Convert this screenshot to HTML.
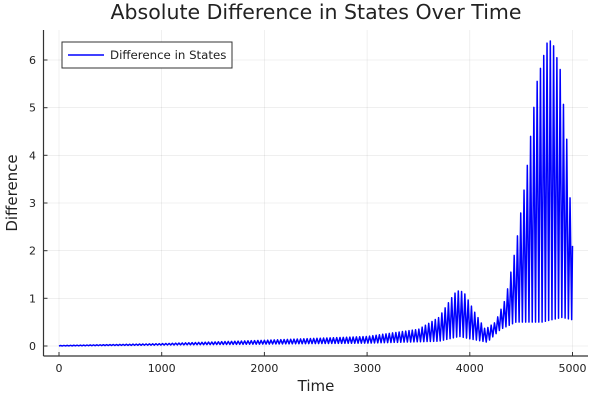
<!DOCTYPE html>
<html><head><meta charset="utf-8"><style>
body{margin:0;background:#fff}
svg{display:block;font-family:"DejaVu Sans","Liberation Sans",sans-serif}
</style></head><body>
<svg id="s" width="600" height="400" xmlns="http://www.w3.org/2000/svg">
<rect width="600" height="400" fill="#fff"/>
<g stroke="#000" stroke-opacity="0.1" stroke-width="0.6">
<line x1="59" y1="30" x2="59" y2="356"/><line x1="161.7" y1="30" x2="161.7" y2="356"/>
<line x1="264.4" y1="30" x2="264.4" y2="356"/><line x1="367.1" y1="30" x2="367.1" y2="356"/>
<line x1="469.8" y1="30" x2="469.8" y2="356"/><line x1="572.5" y1="30" x2="572.5" y2="356"/>
<line x1="43.5" y1="346" x2="588" y2="346"/><line x1="43.5" y1="298.3" x2="588" y2="298.3"/>
<line x1="43.5" y1="250.7" x2="588" y2="250.7"/><line x1="43.5" y1="203" x2="588" y2="203"/>
<line x1="43.5" y1="155.3" x2="588" y2="155.3"/><line x1="43.5" y1="107.7" x2="588" y2="107.7"/>
<line x1="43.5" y1="60" x2="588" y2="60"/>
</g>
<g stroke="#333" stroke-width="1.2">
<line x1="43.5" y1="30" x2="43.5" y2="356"/><line x1="43.5" y1="356" x2="588" y2="356"/>
</g>
<g stroke="#333" stroke-width="1">
<line x1="59" y1="356" x2="59" y2="352"/><line x1="161.7" y1="356" x2="161.7" y2="352"/><line x1="264.4" y1="356" x2="264.4" y2="352"/><line x1="367.1" y1="356" x2="367.1" y2="352"/><line x1="469.8" y1="356" x2="469.8" y2="352"/><line x1="572.5" y1="356" x2="572.5" y2="352"/>
<line x1="43.5" y1="346" x2="47.5" y2="346"/><line x1="43.5" y1="298.3" x2="47.5" y2="298.3"/><line x1="43.5" y1="250.7" x2="47.5" y2="250.7"/><line x1="43.5" y1="203" x2="47.5" y2="203"/><line x1="43.5" y1="155.3" x2="47.5" y2="155.3"/><line x1="43.5" y1="107.7" x2="47.5" y2="107.7"/><line x1="43.5" y1="60" x2="47.5" y2="60"/>
</g>
<g font-size="11" fill="#222" text-anchor="middle">
<text x="59" y="372">0</text><text x="161.7" y="372">1000</text><text x="264.4" y="372">2000</text><text x="367.1" y="372">3000</text><text x="469.8" y="372">4000</text><text x="572.5" y="372">5000</text>
</g>
<g font-size="11" fill="#222" text-anchor="end">
<text x="36" y="350">0</text><text x="36" y="302.3">1</text><text x="36" y="254.7">2</text><text x="36" y="207">3</text><text x="36" y="159.3">4</text><text x="36" y="111.7">5</text><text x="36" y="64">6</text>
</g>
<text x="316" y="391" font-size="15" text-anchor="middle" fill="#222">Time</text>
<text x="0" y="0" font-size="15" text-anchor="middle" fill="#222" transform="translate(17,193) rotate(-90)">Difference</text>
<text x="316" y="19" font-size="20.5" text-anchor="middle" fill="#222">Absolute Difference in States Over Time</text>
<path id="p" fill="none" stroke="#0000ff" stroke-width="1.5" stroke-linejoin="round"/>
<rect x="62" y="42" width="170" height="26" fill="#fff" stroke="#333" stroke-width="1"/>
<line x1="68" y1="55" x2="104" y2="55" stroke="#0000ff" stroke-width="1.5"/>
<text x="110" y="59" font-size="11.8" fill="#222">Difference in States</text>
</svg>
<script>
var U=[[0,0.01],[1000,0.05],[2000,0.12],[3000,0.2],[3500,0.35],[3700,0.6],[3850,1.1],[3900,1.17],[3950,1.1],[4050,0.7],[4150,0.35],[4250,0.5],[4350,1.0],[4450,2.1],[4550,3.6],[4650,5.5],[4750,6.35],[4800,6.42],[4880,5.8],[4950,4.2],[5000,2.1]];
var L=[[0,0],[1000,0.02],[2000,0.04],[3000,0.06],[3700,0.1],[3900,0.2],[4000,0.15],[4170,0.08],[4300,0.35],[4450,0.5],[4700,0.5],[4900,0.6],[5000,0.55]];
function f(a,t){for(var i=1;i<a.length;i++){if(t<=a[i][0]){var p=a[i-1],q=a[i];return p[1]+(q[1]-p[1])*(t-p[0])/(q[0]-p[0]);}}return a[a.length-1][1];}
function X(t){return 59+t*0.1027;}function Y(v){return 346-v*47.67;}
var d="M"+X(0)+","+Y(0),k=0;
for(var t=16;t<=5000;t+=16){k++;var v=(k%2)?f(U,t):f(L,t);d+=" L"+X(t).toFixed(2)+","+Y(v).toFixed(2);}
d+=" L"+X(5000)+","+Y(2.1);
document.getElementById('p').setAttribute('d',d);
</script>
</body></html>
